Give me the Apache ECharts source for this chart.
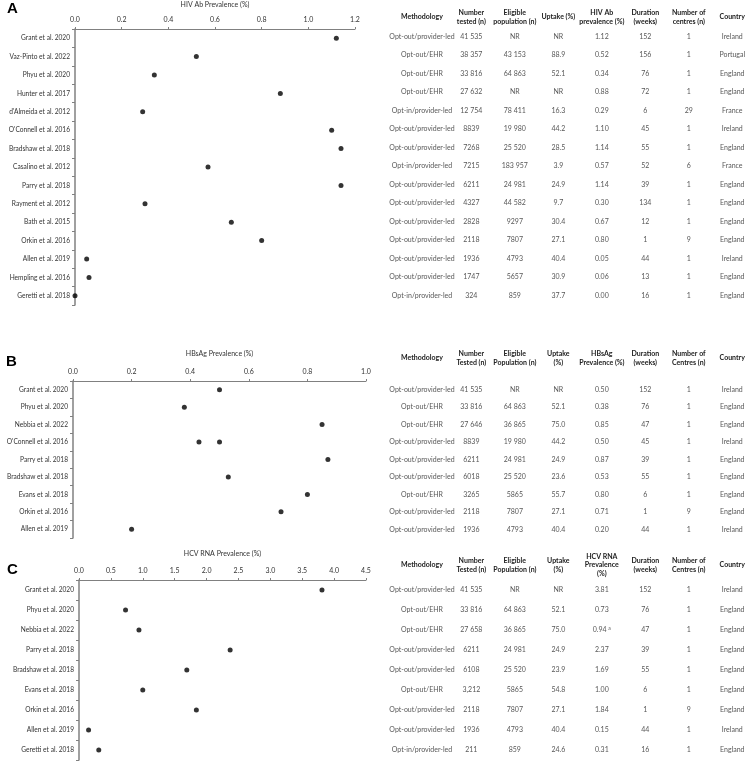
<!DOCTYPE html>
<html>
<head>
<meta charset="utf-8">
<script src="https://cdn.jsdelivr.net/npm/echarts@6/dist/echarts.min.js"></script>
<style>
  html, body { margin: 0; padding: 0; background: #fff; }
  #chart { width: 754px; height: 763px; }
</style>
</head>
<body>
<div id="chart"></div>
<script>
// ---- panel A: HIV Ab ----
var hivStudies = ['Grant et al. 2020', 'Vaz-Pinto et al. 2022', 'Phyu et al. 2020', 'Hunter et al. 2017',
  "d'Almeida et al. 2012", "O'Connell et al. 2016", 'Bradshaw et al. 2018', 'Casalino et al. 2012',
  'Parry et al. 2018', 'Rayment et al. 2012', 'Bath et al. 2015', 'Orkin et al. 2016',
  'Allen et al. 2019', 'Hempling et al. 2016', 'Geretti et al. 2018'];
var hivPrev = [1.12, 0.52, 0.34, 0.88, 0.29, 1.10, 1.14, 0.57, 1.14, 0.30, 0.67, 0.80, 0.05, 0.06, 0.00];
var hivMethod = ['Opt-out/provider-led', 'Opt-out/EHR', 'Opt-out/EHR', 'Opt-out/EHR', 'Opt-in/provider-led',
  'Opt-out/provider-led', 'Opt-out/provider-led', 'Opt-in/provider-led', 'Opt-out/provider-led',
  'Opt-out/provider-led', 'Opt-out/provider-led', 'Opt-out/provider-led', 'Opt-out/provider-led',
  'Opt-out/provider-led', 'Opt-in/provider-led'];
var hivTested = ['41 535', '38 357', '33 816', '27 632', '12 754', '8839', '7268', '7215', '6211', '4327', '2828', '2118', '1936', '1747', '324'];
var hivEligible = ['NR', '43 153', '64 863', 'NR', '78 411', '19 980', '25 520', '183 957', '24 981', '44 582', '9297', '7807', '4793', '5657', '859'];
var hivUptake = ['NR', '88.9', '52.1', 'NR', '16.3', '44.2', '28.5', '3.9', '24.9', '9.7', '30.4', '27.1', '40.4', '30.9', '37.7'];
var hivDuration = [152, 156, 76, 72, 6, 45, 55, 52, 39, 134, 12, 1, 44, 13, 16];
var hivCentres = [1, 1, 1, 1, 29, 1, 1, 6, 1, 1, 1, 9, 1, 1, 1];
var hivCountry = ['Ireland', 'Portugal', 'England', 'England', 'France', 'Ireland', 'England', 'France',
  'England', 'England', 'England', 'England', 'Ireland', 'England', 'England'];
var hivHeaders = ['Methodology', 'Number\ntested (n)', 'Eligible\npopulation (n)', 'Uptake (%)',
  'HIV Ab\nprevalence (%)', 'Duration\n(weeks)', 'Number of\ncentres (n)', 'Country'];

// ---- panel B: HBsAg ----
var hbvStudies = ['Grant et al. 2020', 'Phyu et al. 2020', 'Nebbia et al. 2022', "O'Connell et al. 2016",
  'Parry et al. 2018', 'Bradshaw et al. 2018', 'Evans et al. 2018', 'Orkin et al. 2016', 'Allen et al. 2019'];
var hbvPrev = [0.50, 0.38, 0.85, 0.50, 0.87, 0.53, 0.80, 0.71, 0.20];
var hbvExtraStudy = "O'Connell et al. 2016";
var hbvExtraPrev = 0.43;
var hbvMethod = ['Opt-out/provider-led', 'Opt-out/EHR', 'Opt-out/EHR', 'Opt-out/provider-led',
  'Opt-out/provider-led', 'Opt-out/provider-led', 'Opt-out/EHR', 'Opt-out/provider-led', 'Opt-out/provider-led'];
var hbvTested = ['41 535', '33 816', '27 646', '8839', '6211', '6018', '3265', '2118', '1936'];
var hbvEligible = ['NR', '64 863', '36 865', '19 980', '24 981', '25 520', '5865', '7807', '4793'];
var hbvUptake = ['NR', '52.1', '75.0', '44.2', '24.9', '23.6', '55.7', '27.1', '40.4'];
var hbvDuration = [152, 76, 47, 45, 39, 55, 6, 1, 44];
var hbvCentres = [1, 1, 1, 1, 1, 1, 1, 9, 1];
var hbvCountry = ['Ireland', 'England', 'England', 'Ireland', 'England', 'England', 'England', 'England', 'Ireland'];
var hbvHeaders = ['Methodology', 'Number\nTested (n)', 'Eligible\nPopulation (n)', 'Uptake\n(%)',
  'HBsAg\nPrevalence (%)', 'Duration\n(weeks)', 'Number of\nCentres (n)', 'Country'];

// ---- panel C: HCV RNA ----
var hcvStudies = ['Grant et al. 2020', 'Phyu et al. 2020', 'Nebbia et al. 2022', 'Parry et al. 2018',
  'Bradshaw et al. 2018', 'Evans et al. 2018', 'Orkin et al. 2016', 'Allen et al. 2019', 'Geretti et al. 2018'];
var hcvPrev = [3.81, 0.73, 0.94, 2.37, 1.69, 1.00, 1.84, 0.15, 0.31];
var hcvNotes = ['', '', 'a', '', '', '', '', '', ''];
var hcvMethod = ['Opt-out/provider-led', 'Opt-out/EHR', 'Opt-out/EHR', 'Opt-out/provider-led',
  'Opt-out/provider-led', 'Opt-out/EHR', 'Opt-out/provider-led', 'Opt-out/provider-led', 'Opt-in/provider-led'];
var hcvTested = ['41 535', '33 816', '27 658', '6211', '6108', '3,212', '2118', '1936', '211'];
var hcvEligible = ['NR', '64 863', '36 865', '24 981', '25 520', '5865', '7807', '4793', '859'];
var hcvUptake = ['NR', '52.1', '75.0', '24.9', '23.9', '54.8', '27.1', '40.4', '24.6'];
var hcvDuration = [152, 76, 47, 39, 55, 6, 1, 44, 16];
var hcvCentres = [1, 1, 1, 1, 1, 1, 9, 1, 1];
var hcvCountry = ['Ireland', 'England', 'England', 'England', 'England', 'England', 'England', 'Ireland', 'England'];
var hcvHeaders = ['Methodology', 'Number\nTested (n)', 'Eligible\nPopulation (n)', 'Uptake\n(%)',
  'HCV RNA\nPrevalence\n(%)', 'Duration\n(weeks)', 'Number of\nCentres (n)', 'Country'];

var FONT = 'Lato, "Open Sans", sans-serif';
var AXIS_GREY = '#808080';
var TEXT = '#333';
var CELL = '#2a2a2a';

var panels = [
  {
    title: 'HIV Ab Prevalence (%)', max: 1.2, interval: 0.2,
    grid: { left: 75, width: 280, top: 27, height: 278 }, nameGap: 21, headMargin: 10,
    studies: hivStudies, prev: hivPrev, headers: hivHeaders,
    cols: [hivMethod, hivTested, hivEligible, hivUptake, hivPrev.map(function (v) { return v.toFixed(2); }),
      hivDuration, hivCentres, hivCountry]
  },
  {
    title: 'HBsAg Prevalence (%)', max: 1.0, interval: 0.2,
    grid: { left: 73, width: 293, top: 381, height: 157 }, nameGap: 24, headMargin: 23,
    studies: hbvStudies, prev: hbvPrev, headers: hbvHeaders,
    extra: [[hbvExtraPrev, hbvExtraStudy]],
    cols: [hbvMethod, hbvTested, hbvEligible, hbvUptake, hbvPrev.map(function (v) { return v.toFixed(2); }),
      hbvDuration, hbvCentres, hbvCountry]
  },
  {
    title: 'HCV RNA Prevalence (%)', max: 4.5, interval: 0.5,
    grid: { left: 79, width: 287, top: 580, height: 180 }, nameGap: 23, headMargin: 15,
    studies: hcvStudies, prev: hcvPrev, headers: hcvHeaders,
    cols: [hcvMethod, hcvTested, hcvEligible, hcvUptake,
      hcvPrev.map(function (v, i) { return v.toFixed(2) + (hcvNotes[i] ? ' {sup|' + hcvNotes[i] + '}' : ''); }),
      hcvDuration, hcvCentres, hcvCountry]
  }
];

var grid = [], xAxis = [], yAxis = [], series = [];

function cellLabel() {
  return {
    show: true, position: 'inside', fontFamily: FONT, fontSize: 7, color: CELL,
    formatter: function (prm) { return prm.data.txt; },
    rich: { sup: { fontSize: 5, verticalAlign: 'top', padding: [0, 0, 4, 0], fontFamily: FONT, color: CELL } }
  };
}

// a table block: header labels on a top category axis, one text cell per row/column
function addTable(gIdx, gridBox, headers, cols, studies, headMargin) {
  grid.push(gridBox);
  xAxis.push({
    gridIndex: gIdx, type: 'category', position: 'top', data: headers,
    axisLine: { show: false }, axisTick: { show: false }, splitLine: { show: false },
    axisLabel: { interval: 0, fontFamily: FONT, fontSize: 7, fontWeight: 'bold', color: '#222',
      lineHeight: 8.5, verticalAlign: 'middle', margin: headMargin }
  });
  yAxis.push({ gridIndex: gIdx, type: 'category', data: studies, inverse: true, show: false });
  var cells = [];
  cols.forEach(function (col, c) {
    col.forEach(function (txt, r) {
      cells.push({ value: [c, r], txt: String(txt) });
    });
  });
  series.push({
    type: 'scatter', xAxisIndex: gIdx, yAxisIndex: gIdx, symbolSize: 0, silent: true,
    data: cells, label: cellLabel()
  });
}

panels.forEach(function (p, k) {
  var gi = k * 3;
  grid.push(p.grid);

  xAxis.push({
    gridIndex: gi, type: 'value', position: 'top', min: 0, max: p.max, interval: p.interval,
    name: p.title, nameLocation: 'middle', nameGap: p.nameGap,
    nameTextStyle: { fontFamily: FONT, fontSize: 7, color: TEXT },
    axisLine: { show: true, lineStyle: { color: AXIS_GREY, width: 1 } },
    axisTick: { show: true, length: 2, lineStyle: { color: AXIS_GREY } },
    splitLine: { show: false },
    axisLabel: { fontFamily: FONT, fontSize: 7, color: TEXT, margin: 6,
      formatter: function (v) { return v.toFixed(1); } }
  });
  yAxis.push({
    gridIndex: gi, type: 'category', data: p.studies, inverse: true,
    axisLine: { show: true, lineStyle: { color: AXIS_GREY, width: 1.5 } },
    axisTick: { show: true, length: 3, lineStyle: { color: AXIS_GREY } },
    axisLabel: { fontFamily: FONT, fontSize: 6.6, color: TEXT, margin: 5, interval: 0 }
  });

  series.push({
    type: 'scatter', xAxisIndex: gi, yAxisIndex: gi, symbolSize: 5,
    itemStyle: { color: '#000' },
    data: p.prev.map(function (v, i) { return [v, i]; })
  });
  if (p.extra) {
    series.push({
      type: 'scatter', xAxisIndex: gi, yAxisIndex: gi, symbolSize: 5,
      itemStyle: { color: '#000' },
      data: p.extra.map(function (e) { return [e[0], p.studies.indexOf(e[1])]; })
    });
  }

  // methodology column (wide) and the seven narrower columns
  addTable(gi + 1, { left: 384, width: 76, top: p.grid.top, height: p.grid.height },
    p.headers.slice(0, 1), p.cols.slice(0, 1), p.studies, p.headMargin);
  addTable(gi + 2, { left: 449.6, width: 313, top: p.grid.top, height: p.grid.height },
    p.headers.slice(1), p.cols.slice(1), p.studies, p.headMargin);
});

var chart = echarts.init(document.getElementById('chart'));
chart.setOption({
  backgroundColor: '#fff',
  animation: false,
  graphic: [
    { type: 'text', left: 7, top: 1, style: { text: 'A', font: 'bold 15px "Liberation Sans", Arial, sans-serif', fill: '#000' } },
    { type: 'text', left: 6, top: 354, style: { text: 'B', font: 'bold 15px "Liberation Sans", Arial, sans-serif', fill: '#000' } },
    { type: 'text', left: 7, top: 562, style: { text: 'C', font: 'bold 15px "Liberation Sans", Arial, sans-serif', fill: '#000' } }
  ],
  grid: grid,
  xAxis: xAxis,
  yAxis: yAxis,
  series: series
});
</script>
</body>
</html>
